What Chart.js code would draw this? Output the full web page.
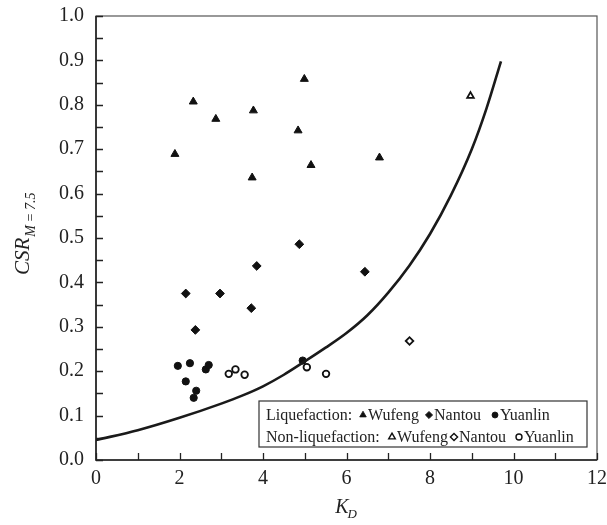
<!DOCTYPE html>
<html>
<head>
<meta charset="utf-8">
<script src="https://cdn.jsdelivr.net/npm/chart.js@4.4.1/dist/chart.umd.min.js"></script>
<style>
    html, body { margin: 0; padding: 0; background: #fff; }
    #chart-box { width: 607px; height: 525px; }
</style>
</head>
<body>
<div id="chart-box"><canvas id="kd-chart" width="607" height="525"></canvas></div>
<script>
// Liquefaction cases (filled markers)
const liqWufengKD = [1.89, 2.33, 2.87, 3.77, 3.74, 4.84, 4.99, 5.15, 6.79];
const liqWufengCSR = [0.689, 0.807, 0.768, 0.787, 0.636, 0.742, 0.858, 0.664, 0.681];
const liqNantouKD = [4.87, 2.15, 2.97, 3.85, 3.72, 2.38, 6.44];
const liqNantouCSR = [0.486, 0.375, 0.375, 0.437, 0.342, 0.293, 0.424];
const liqYuanlinKD = [1.96, 2.25, 2.15, 2.40, 2.34, 2.63, 2.70, 4.95];
const liqYuanlinCSR = [0.212, 0.218, 0.177, 0.156, 0.140, 0.204, 0.214, 0.224];

// Non-liquefaction cases (open markers)
const nonWufengKD = [8.97];
const nonWufengCSR = [0.820];
const nonNantouKD = [7.51];
const nonNantouCSR = [0.268];
const nonYuanlinKD = [3.18, 3.34, 3.56, 5.05, 5.51];
const nonYuanlinCSR = [0.194, 0.204, 0.192, 0.209, 0.194];

// boundary curve
const curveKD = [0, 1, 2, 3, 3.5, 4, 4.5, 5, 5.5, 6, 6.5, 7, 7.5, 8, 8.5, 9, 9.35, 9.7];
const curveCSR = [0.045, 0.067, 0.095, 0.127, 0.145, 0.166, 0.192, 0.222, 0.253, 0.286, 0.326, 0.377, 0.437, 0.509, 0.596, 0.700, 0.791, 0.898];

const xTicksLabelled = [0, 2, 4, 6, 8, 10, 12];

const serif = '"Liberation Serif", "Times New Roman", serif';

function toPoints(xs, ys) {
    return xs.map((x, i) => ({ x: x, y: ys[i] }));
}

function markerSet(label, xs, ys, style, radius, open) {
    return {
        label: label,
        data: toPoints(xs, ys),
        pointStyle: style,
        pointRadius: radius,
        pointHoverRadius: radius,
        pointBackgroundColor: open ? '#ffffff' : '#111111',
        pointBorderColor: '#111111',
        pointBorderWidth: open ? 1.8 : 1,
        showLine: false
    };
}

// frame, inward ticks, axis titles and the two-row legend
const decorPlugin = {
    id: 'decor',
    beforeDatasetsDraw(chart) {
        const ctx = chart.ctx;
        const a = chart.chartArea;
        const xs = chart.scales.x;
        const ys = chart.scales.y;
        ctx.save();
        ctx.strokeStyle = '#555';
        ctx.lineWidth = 1.2;
        ctx.strokeRect(a.left, a.top, a.right - a.left, a.bottom - a.top);

        ctx.strokeStyle = '#222';
        ctx.lineWidth = 1.6;
        ctx.beginPath();
        ctx.moveTo(a.left, a.top);
        ctx.lineTo(a.left, a.bottom);
        ctx.lineTo(a.right, a.bottom);
        ctx.stroke();

        ctx.lineWidth = 1.3;
        ctx.beginPath();
        xs.ticks.forEach(t => {
            const px = Math.round(xs.getPixelForValue(t.value)) + 0.5;
            ctx.moveTo(px, a.bottom);
            ctx.lineTo(px, a.bottom - 7);
        });
        ys.ticks.forEach(t => {
            const py = Math.round(ys.getPixelForValue(t.value)) + 0.5;
            ctx.moveTo(a.left, py);
            ctx.lineTo(a.left + 7, py);
        });
        ctx.stroke();
        ctx.restore();
    },
    afterDatasetsDraw(chart) {
        const ctx = chart.ctx;
        const a = chart.chartArea;
        ctx.save();

        // x title: K_D
        ctx.fillStyle = '#222';
        ctx.textBaseline = 'alphabetic';
        ctx.font = 'italic 20px ' + serif;
        const kW = ctx.measureText('K').width;
        ctx.font = 'italic 13px ' + serif;
        const dW = ctx.measureText('D').width;
        let tx = (a.left + a.right) / 2 - (kW + dW) / 2;
        ctx.font = 'italic 20px ' + serif;
        ctx.fillText('K', tx, 513);
        ctx.font = 'italic 13px ' + serif;
        ctx.fillText('D', tx + kW - 1, 518);

        // y title: CSR_{M = 7.5}
        ctx.save();
        ctx.translate(29, 275);
        ctx.rotate(-Math.PI / 2);
        ctx.font = 'italic 21px ' + serif;
        ctx.fillText('CSR', 0, 0);
        const cW = ctx.measureText('CSR').width;
        ctx.font = 'italic 14px ' + serif;
        ctx.fillText('M\u2009=\u20097.5', cW + 1, 6);
        ctx.restore();

        // legend box
        const box = { left: 259, top: 401, right: 587, bottom: 447 };
        ctx.fillStyle = '#fff';
        ctx.fillRect(box.left, box.top, box.right - box.left, box.bottom - box.top);
        ctx.strokeStyle = '#333';
        ctx.lineWidth = 1.2;
        ctx.strokeRect(box.left, box.top, box.right - box.left, box.bottom - box.top);

        const rows = [
            { y: 420, prefix: 'Liquefaction:', open: false, xs: [363, 429, 495] },
            { y: 442, prefix: 'Non-liquefaction:', open: true, xs: [392, 454, 519] }
        ];
        const names = ['Wufeng', 'Nantou', 'Yuanlin'];
        const styles = [['triangle', 3.8], ['rectRot', 3.6], ['circle', 3.0]];
        ctx.font = '16px ' + serif;
        rows.forEach(r => {
            ctx.fillStyle = '#222';
            ctx.fillText(r.prefix, 266, r.y);
            r.xs.forEach((mx, i) => {
                ctx.fillStyle = r.open ? '#fff' : '#111';
                ctx.strokeStyle = '#111';
                ctx.lineWidth = r.open ? 1.4 : 0.8;
                Chart.helpers.drawPoint(ctx, {
                    pointStyle: styles[i][0],
                    radius: styles[i][1],
                    rotation: 0,
                    borderWidth: r.open ? 1.4 : 0.8
                }, mx, r.y - 5);
                ctx.fillStyle = '#222';
                ctx.fillText(names[i], mx + 5, r.y);
            });
        });
        ctx.restore();
    }
};

const ctx = document.getElementById('kd-chart').getContext('2d');
const kdChart = new Chart(ctx, {
    type: 'scatter',
    data: {
        datasets: [
            {
                label: 'Boundary',
                data: toPoints(curveKD, curveCSR),
                showLine: true,
                borderColor: '#1a1a1a',
                borderWidth: 2.6,
                pointRadius: 0,
                pointHoverRadius: 0,
                cubicInterpolationMode: 'monotone',
                fill: false
            },
            markerSet('Liquefaction Wufeng', liqWufengKD, liqWufengCSR, 'triangle', 4.6, false),
            markerSet('Liquefaction Nantou', liqNantouKD, liqNantouCSR, 'rectRot', 4.4, false),
            markerSet('Liquefaction Yuanlin', liqYuanlinKD, liqYuanlinCSR, 'circle', 3.6, false),
            markerSet('Non-liquefaction Wufeng', nonWufengKD, nonWufengCSR, 'triangle', 3.8, true),
            markerSet('Non-liquefaction Nantou', nonNantouKD, nonNantouCSR, 'rectRot', 3.8, true),
            markerSet('Non-liquefaction Yuanlin', nonYuanlinKD, nonYuanlinCSR, 'circle', 3.3, true)
        ]
    },
    options: {
        responsive: false,
        animation: false,
        events: [],
        layout: { padding: { top: 16, right: 10, left: 0, bottom: 0 } },
        plugins: {
            legend: { display: false },
            tooltip: { enabled: false }
        },
        scales: {
            x: {
                type: 'linear',
                min: 0,
                max: 12,
                grid: { display: false, drawTicks: false },
                border: { display: false },
                ticks: {
                    stepSize: 1,
                    autoSkip: false,
                    maxRotation: 0,
                    padding: 7,
                    color: '#222',
                    font: { family: serif, size: 20 },
                    callback: v => xTicksLabelled.includes(v) ? String(v) : ''
                },
                // fixed height, and no extra room for the end labels
                afterFit: s => {
                    s.height = 65;
                    s.paddingLeft = 0;
                    s.paddingRight = 0;
                }
            },
            y: {
                type: 'linear',
                min: 0,
                max: 1.0,
                grid: { display: false, drawTicks: false },
                border: { display: false },
                ticks: {
                    stepSize: 0.05,
                    autoSkip: false,
                    padding: 12,
                    color: '#222',
                    font: { family: serif, size: 20 },
                    callback: v => Math.round(v * 100) % 10 === 0 ? v.toFixed(1) : ''
                },
                afterFit: s => {
                    s.width = 96;
                    s.paddingTop = 0;
                    s.paddingBottom = 0;
                }
            }
        }
    },
    plugins: [decorPlugin]
});
</script>
</body>
</html>
